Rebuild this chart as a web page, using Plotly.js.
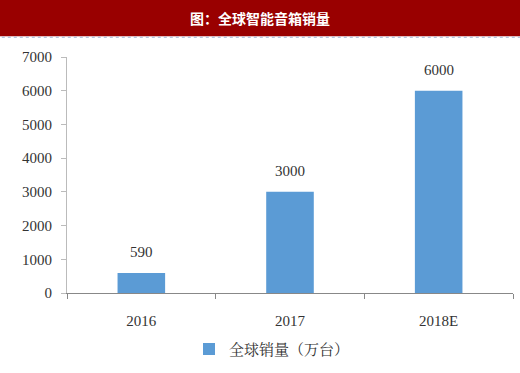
<!DOCTYPE html>
<html>
<head>
<meta charset="utf-8">
<script src="https://cdn.plot.ly/plotly-3.0.1.min.js"></script>
<style>html,body{margin:0;padding:0;background:#fff;}#chart{width:520px;height:373px;}</style>
</head>
<body>
<div id="chart"></div>
<script>
const categories = ['2016', '2017', '2018E'];
const sales = [590, 3000, 6000];
const seriesName = '全球销量（万台）';
const chartTitle = '图：全球智能音箱销量';
const yTicks = [0, 1000, 2000, 3000, 4000, 5000, 6000, 7000];

const serif = '"Liberation Serif", "Times New Roman", serif';
const trace = {
  type: 'bar',
  x: categories,
  y: sales,
  name: seriesName,
  width: 0.32,
  marker: {color: '#5B9BD5'},
  hoverinfo: 'none'
};
const valueLabels = categories.map((c, i) => ({
  x: i, y: sales[i], xref: 'x', yref: 'y', text: String(sales[i]),
  showarrow: false, yanchor: 'bottom', yshift: 11,
  font: {family: serif, size: 15, color: '#333'}
}));
const layout = {
  width: 520, height: 373,
  margin: {l: 67, r: 7, t: 57, b: 77},
  paper_bgcolor: '#fff', plot_bgcolor: '#fff',
  showlegend: true,
  legend: {orientation: 'h', x: (272-67)/446, xanchor: 'center', y: -57/239, yanchor: 'middle',
    itemwidth: 30,
    font: {family: '"Noto Serif CJK SC", "Noto Sans CJK SC", serif', size: 15, color: '#333'}},
  xaxis: {type: 'category', categoryorder: 'array', categoryarray: categories,
    tickson: 'boundaries', ticks: 'outside', ticklen: 5, tickcolor: '#888',
    showline: true, linecolor: '#888', linewidth: 1, showgrid: false, zeroline: false,
    ticklabelstandoff: 14,
    tickfont: {family: serif, size: 15, color: '#333'}},
  yaxis: {range: [0, 7000], tickvals: yTicks, ticks: 'outside', ticklen: 5, tickcolor: '#bbb',
    showline: true, linecolor: '#bbb', showgrid: false, zeroline: false,
    ticklabelstandoff: 6,
    tickfont: {family: serif, size: 15, color: '#333'}},
  shapes: [
    {type: 'rect', xref: 'paper', yref: 'paper', x0: -0.2, x1: 1.1, y0: 1 + 21/239, y1: 1.3,
      fillcolor: '#990000', line: {width: 0}, layer: 'below'},
    {type: 'line', xref: 'paper', yref: 'paper', x0: -0.2, x1: 1.1, y0: 1 + 20/239, y1: 1 + 20/239,
      line: {color: '#9db3d8', width: 1, dash: 'dot'}}
  ],
  annotations: valueLabels.concat([
    {text: chartTitle, xref: 'paper', yref: 'paper', x: (260-67)/446, y: 1 + 39/239,
      xanchor: 'center', yanchor: 'middle', showarrow: false,
      font: {family: '"Noto Sans CJK SC", sans-serif', size: 14, color: '#fff', weight: 'bold'}}
  ])
};
Plotly.newPlot('chart', [trace], layout, {displayModeBar: false, staticPlot: true});
</script>
</body>
</html>
